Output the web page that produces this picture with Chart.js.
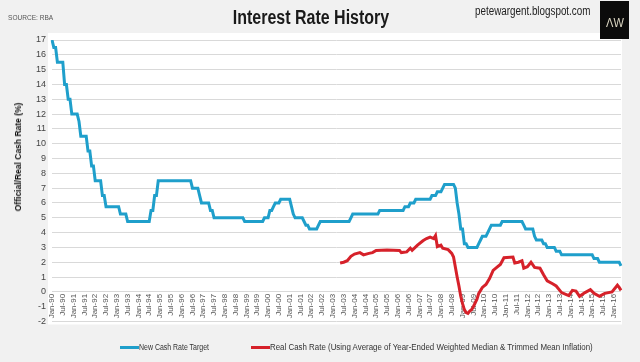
<!DOCTYPE html>
<html>
<head>
<meta charset="utf-8">
<script src="https://cdn.jsdelivr.net/npm/chart.js@4.4.1/dist/chart.umd.min.js"></script>
<style>
  html, body { margin:0; padding:0; background:#f1f1f1; }
  body { width:640px; height:362px; position:relative; overflow:hidden; font-family:'Liberation Sans Narrow','Arial Narrow','Liberation Sans',sans-serif; }
  #wrap { position:absolute; left:0; top:0; width:640px; height:362px; }
  .abs { position:absolute; white-space:nowrap; }
  #source { left:8px; top:13px; font-size:8px; color:#555; transform-origin:0 50%; transform:scaleX(0.82); }
  #title { left:311px; top:6px; font-size:20px; font-weight:bold; color:#1a1a1a; transform:translateX(-50%) scaleX(0.8); }
  #blog { left:475px; top:4px; font-size:12px; color:#222; transform-origin:0 50%; transform:scaleX(0.82); }
  #logo { left:600px; top:1px; width:29px; height:38px; background:#0b0b0b; }
  #logotext { left:614.5px; top:22px; font-size:13px; color:#dcd7c3; transform:translate(-50%,-50%) scaleX(0.85); }
  #ytitle { left:18px; top:157px; font-size:8.5px; font-weight:bold; color:#111; transform:translate(-50%,-50%) rotate(-90deg); }
  .lgt { top:342px; font-size:8.5px; color:#333; transform-origin:0 50%; }
  .sw { top:345.5px; width:19px; height:3px; }
</style>
</head>
<body>
<div id="wrap"><canvas id="c" width="640" height="362"></canvas></div>
<div class="abs" id="source">SOURCE: RBA</div>
<div class="abs" id="title">Interest Rate History</div>
<div class="abs" id="blog">petewargent.blogspot.com</div>
<div class="abs" id="logo"></div>
<div class="abs" id="logotext">ΛW</div>
<div class="abs" id="ytitle"></div>
<div class="abs sw" id="sw1" style="left:120px"></div>
<div class="abs lgt" id="lg1" style="left:139px; transform:scaleX(0.82)"></div>
<div class="abs sw" id="sw2" style="left:251px"></div>
<div class="abs lgt" id="lg2" style="left:270px; transform:scaleX(0.93)"></div>
<script>
// ---- data ----
const monthNames = ['Jan','Feb','Mar','Apr','May','Jun','Jul','Aug','Sep','Oct','Nov','Dec'];
const firstYear = 1990, lastYear = 2016, lastMonthIndex = 4; // ends May-16
const seriesNames = ['New Cash Rate Target', 'Real Cash Rate (Using Average of Year-Ended Weighted Median & Trimmed Mean Inflation)'];
const yAxisTitle = 'Official/Real Cash Rate (%)';

// New cash rate target, monthly (end of month), Jan-90 .. May-16
const cashRate = [
  17,16.5,16.5,15.5,15.5,15.5,15.5,14,14,13,13,12,            // 1990
  12,12,12,11.5,10.5,10.5,10.5,10.5,9.5,9.5,8.5,8.5,           // 1991
  7.5,7.5,7.5,7.5,6.5,6.5,5.75,5.75,5.75,5.75,5.75,5.75,       // 1992
  5.75,5.75,5.25,5.25,5.25,5.25,4.75,4.75,4.75,4.75,4.75,4.75, // 1993
  4.75,4.75,4.75,4.75,4.75,4.75,4.75,5.5,5.5,6.5,6.5,7.5,      // 1994
  7.5,7.5,7.5,7.5,7.5,7.5,7.5,7.5,7.5,7.5,7.5,7.5,             // 1995
  7.5,7.5,7.5,7.5,7.5,7.5,7,7,7,7,6.5,6,                       // 1996
  6,6,6,6,5.5,5.5,5,5,5,5,5,5,                                 // 1997
  5,5,5,5,5,5,5,5,5,5,5,4.75,                                  // 1998
  4.75,4.75,4.75,4.75,4.75,4.75,4.75,4.75,4.75,4.75,5,5,       // 1999
  5,5.5,5.5,5.75,6,6,6,6.25,6.25,6.25,6.25,6.25,               // 2000
  6.25,5.75,5.25,5,5,5,5,5,4.75,4.5,4.5,4.25,                  // 2001
  4.25,4.25,4.25,4.25,4.5,4.75,4.75,4.75,4.75,4.75,4.75,4.75,  // 2002
  4.75,4.75,4.75,4.75,4.75,4.75,4.75,4.75,4.75,4.75,5,5.25,    // 2003
  5.25,5.25,5.25,5.25,5.25,5.25,5.25,5.25,5.25,5.25,5.25,5.25, // 2004
  5.25,5.25,5.5,5.5,5.5,5.5,5.5,5.5,5.5,5.5,5.5,5.5,           // 2005
  5.5,5.5,5.5,5.5,5.75,5.75,5.75,6,6,6,6.25,6.25,              // 2006
  6.25,6.25,6.25,6.25,6.25,6.25,6.25,6.5,6.5,6.5,6.75,6.75,    // 2007
  6.75,7,7.25,7.25,7.25,7.25,7.25,7.25,7,6,5.25,4.25,          // 2008
  4.25,3.25,3.25,3,3,3,3,3,3,3.25,3.5,3.75,                    // 2009
  3.75,3.75,4,4.25,4.5,4.5,4.5,4.5,4.5,4.5,4.75,4.75,          // 2010
  4.75,4.75,4.75,4.75,4.75,4.75,4.75,4.75,4.75,4.75,4.5,4.25,  // 2011
  4.25,4.25,4.25,4.25,3.75,3.5,3.5,3.5,3.5,3.25,3.25,3,        // 2012
  3,3,3,3,2.75,2.75,2.75,2.5,2.5,2.5,2.5,2.5,                  // 2013
  2.5,2.5,2.5,2.5,2.5,2.5,2.5,2.5,2.5,2.5,2.5,2.5,             // 2014
  2.5,2.25,2.25,2.25,2,2,2,2,2,2,2,2,                          // 2015
  2,2,2,2,1.75                                                 // 2016
];

// Real cash rate
const realMonths = ['May-03','Jul-03','Sep-03','Nov-03','Jan-04','Apr-04','Jun-04','Sep-04','Nov-04','Jan-05',
  'Jul-05','Feb-06','Mar-06','Jun-06','Aug-06','Sep-06','Dec-06','Mar-07','May-07','Jul-07',
  'Sep-07','Oct-07','Nov-07','Jan-08','Feb-08','May-08','Jul-08','Aug-08','Oct-08','Nov-08',
  'Dec-08','Jan-09','Feb-09','Mar-09','Apr-09','May-09','Jun-09','Jul-09','Sep-09','Oct-09',
  'Dec-09','Feb-10','Apr-10','Jun-10','Aug-10','Oct-10','Dec-10','May-11','Jun-11','Aug-11',
  'Oct-11','Nov-11','Jan-12','Mar-12','May-12','Aug-12','Oct-12','Dec-12','Mar-13','May-13',
  'Aug-13','Dec-13','Feb-14','Apr-14','Jun-14','Sep-14','Dec-14','Feb-15','May-15','Aug-15',
  'Dec-15','Mar-16','Apr-16','May-16'];
const realValues = [1.95,2.0,2.1,2.4,2.55,2.65,2.5,2.6,2.65,2.8,
  2.82,2.8,2.65,2.7,2.95,2.8,3.15,3.45,3.6,3.7,
  3.6,3.8,3.05,3.15,2.95,2.85,2.6,2.35,1.0,0.4,
  -0.3,-0.8,-1.2,-1.4,-1.45,-1.3,-1.2,-1.0,-0.5,-0.1,
  0.3,0.5,0.9,1.45,1.65,1.85,2.3,2.35,1.95,2.0,
  2.1,1.6,1.7,2.0,1.65,1.6,1.15,0.75,0.55,0.4,
  -0.05,-0.25,0.1,0.05,-0.3,-0.05,0.15,-0.1,-0.3,-0.1,
  0.0,0.45,0.3,0.1];

const yMin = -2, yMax = 17, yStep = 1;
const tickEvery = 6; // Jan & Jul labels
const colors = ['#1f9fcb', '#d6212a'];

// ---- build ----
const labels = [];
for (let y = firstYear; y <= lastYear; y++) {
  for (let m = 0; m < 12; m++) {
    if (y === lastYear && m > lastMonthIndex) break;
    labels.push(monthNames[m] + '-' + String(y).slice(2));
  }
}

document.getElementById('sw1').style.background = colors[0];
document.getElementById('sw2').style.background = colors[1];
document.getElementById('lg1').textContent = seriesNames[0];
document.getElementById('lg2').textContent = seriesNames[1];
document.getElementById('ytitle').textContent = yAxisTitle;

const FONT = "'Liberation Sans Narrow','Arial Narrow','Liberation Sans',sans-serif";

const plotBg = {
  id: 'plotBg',
  beforeDraw(chart) {
    const a = chart.chartArea, ctx = chart.ctx;
    ctx.save();
    ctx.fillStyle = '#ffffff';
    ctx.fillRect(a.left - 4, a.top - 7, a.right - a.left + 5, a.bottom - a.top + 10);
    ctx.restore();
  }
};

new Chart(document.getElementById('c'), {
  type: 'line',
  data: {
    labels: labels,
    datasets: [
      { label: seriesNames[0], data: cashRate, borderColor: colors[0], backgroundColor: colors[0],
        borderWidth: 3, pointRadius: 0, tension: 0, order: 2 },
      { label: seriesNames[1], data: realMonths.map((m, i) => ({ x: m, y: realValues[i] })),
        borderColor: colors[1], backgroundColor: colors[1], borderWidth: 3, pointRadius: 0, tension: 0, order: 1 }
    ]
  },
  options: {
    responsive: false,
    animation: false,
    layout: { padding: { left: 0, right: 19, top: 40, bottom: 40.5 } },
    plugins: { legend: { display: false }, tooltip: { enabled: false } },
    scales: {
      x: {
        type: 'category',
        position: { y: 0 },
        grid: { display: false, drawTicks: false },
        border: { display: false },
        ticks: {
          autoSkip: false, minRotation: 90, maxRotation: 90, padding: 2,
          color: '#555', font: { family: FONT, size: 8 },
          callback: function(v, i) { return i % tickEvery === 0 ? labels[i] : ''; }
        }
      },
      y: {
        min: yMin, max: yMax,
        afterFit(scale) { scale.width = 52; },
        grid: { drawTicks: false, color: (c) => (c.tick && c.tick.value === -1) ? 'rgba(0,0,0,0)' : '#d9d9d9', lineWidth: 1 },
        border: { display: false },
        ticks: { stepSize: yStep, padding: 6, color: '#444', font: { family: FONT, size: 9 } },
        title: { display: false }
      }
    }
  },
  plugins: [plotBg]
});
</script>
</body>
</html>
